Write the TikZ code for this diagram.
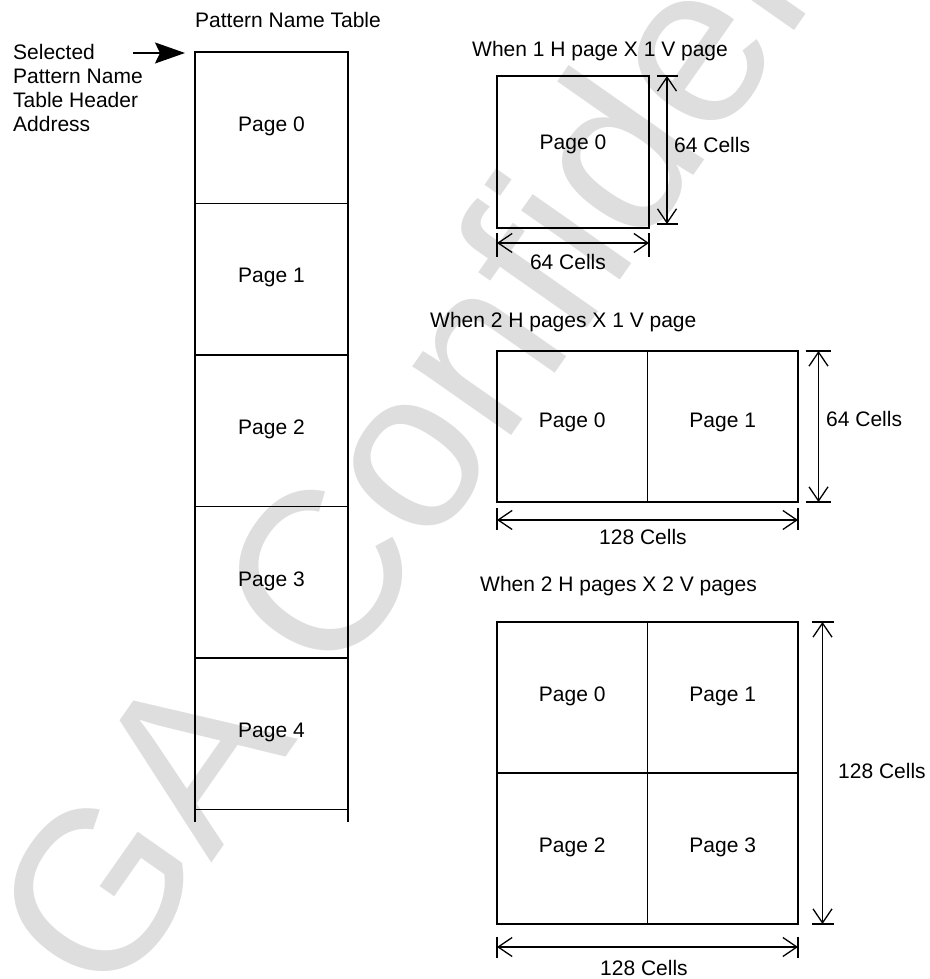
\documentclass[tikz,border=0pt]{standalone}
\usepackage{fontspec}
\setmainfont{Liberation Sans}
\usetikzlibrary{arrows.meta,calc}
\definecolor{wm}{RGB}{222,222,222}
\begin{document}
\begin{tikzpicture}[x=1pt,y=1pt,
  txt/.style={font=\fontsize{21}{24}\selectfont, inner sep=0pt},
  wmtext/.style={font=\fontsize{228}{228}\selectfont, text=wm, inner sep=0pt},
  colcell/.style={draw, line width=1.6pt, minimum width=153pt, minimum height=151.5pt,
    inner sep=0pt, outer sep=0pt, text depth=7pt, font=\fontsize{21}{24}\selectfont},
  gcell/.style={draw, line width=1.1pt, minimum width=150.5pt, minimum height=151pt,
    inner sep=0pt, outer sep=0pt, text depth=7pt, font=\fontsize{21}{24}\selectfont},
  outer/.style={draw, line width=1.8pt},
  colline/.style={line width=1.6pt},
  dim/.style={line width=1.3pt, {Straight Barb[length=14pt,width=19pt]}-{Straight Barb[length=14pt,width=19pt]}},
  tick/.style={line width=1.2pt},
  ptr/.style={line width=1.6pt, -{Stealth[length=30pt,width=21pt,inset=5pt]}},
]
\useasboundingbox (0,0) rectangle (929,979);
% watermark
\begin{scope}
  \clip (0,0) rectangle (929,979);
  \node[wmtext, rotate=55, anchor=base west] (wmark) at (110,-30) {GA Confidential};
\end{scope}

% ---- left column: pattern name table ----
\node[txt, anchor=base west] (ttl) at (195,951) {Pattern Name Table};
\node[colcell] (p0) at (271.5,851.25) {Page 0};
\node[colcell] (p1) at (271.5,699.75) {Page 1};
\node[colcell] (p2) at (271.5,548.25) {Page 2};
\node[colcell] (p3) at (271.5,396.75) {Page 3};
\node[colcell] (p4) at (271.5,245.25) {Page 4};
\draw[colline] (p4.south west) -- ++(0,-12.5);
\draw[colline] (p4.south east) -- ++(0,-12.5);

\node[txt, anchor=base west] (sel1) at (13,919) {Selected};
\node[txt, anchor=base west] (sel2) at (13,895) {Pattern Name};
\node[txt, anchor=base west] (sel3) at (13,871) {Table Header};
\node[txt, anchor=base west] (sel4) at (13,847) {Address};
\coordinate (ptrstart) at (133,926);
\draw[ptr] (ptrstart) -- ($(p0.north west)+(-10,-1)$);

% ---- 1 H x 1 V ----
\node[txt, anchor=base west] (t1) at (472,922) {When 1 H page X 1 V page};
\node[gcell, line width=1.8pt, minimum width=152pt, minimum height=152pt, text depth=19pt] (a0) at (573,827) {Page 0};
\coordinate (a0t) at ($(a0.north east)+(18,0)$);
\coordinate (a0b) at ($(a0.south east)+(18,4)$);
\draw[tick] ($(a0t)+(-10,0)$) -- ++(21,0);
\draw[tick] ($(a0b)+(-10,0)$) -- ++(21,0);
\draw[dim] (a0t) -- (a0b);
\node[txt, anchor=base west] (a0v) at (674,826) {64 Cells};
\coordinate (a0l) at ($(a0.south west)+(0,-15)$);
\coordinate (a0r) at ($(a0.south east)+(0,-15)$);
\draw[tick] ($(a0.south west)+(0,-5)$) -- ++(0,-24);
\draw[tick] ($(a0.south east)+(0,-5)$) -- ++(0,-24);
\draw[dim] (a0l) -- (a0r);
\node[txt, anchor=base] (a0h) at (568,709) {64 Cells};

% ---- 2 H x 1 V ----
\node[txt, anchor=base west] (t2) at (430,651) {When 2 H pages X 1 V page};
\node[gcell, text depth=12pt] (b0) at (572.25,552.5) {Page 0};
\node[gcell, text depth=12pt] (b1) at (722.75,552.5) {Page 1};
\draw[outer] (b0.north west) rectangle (b1.south east);
\coordinate (b1t) at ($(b1.north east)+(20.5,0)$);
\coordinate (b1b) at ($(b1.south east)+(20.5,0)$);
\draw[tick] ($(b1t)+(-13,0)$) -- ++(25,0);
\draw[tick] ($(b1b)+(-13,0)$) -- ++(25,0);
\draw[dim] (b1t) -- (b1b);
\node[txt, anchor=base west] (b1v) at (826,552) {64 Cells};
\coordinate (b0l) at ($(b0.south west)+(0,-18)$);
\coordinate (b1r) at ($(b1.south east)+(0,-18)$);
\draw[tick] ($(b0.south west)+(0,-6)$) -- ++(0,-22);
\draw[tick] ($(b1.south east)+(0,-6)$) -- ++(0,-22);
\draw[dim] (b0l) -- (b1r);
\node[txt, anchor=base] (b0h) at (643,434) {128 Cells};

% ---- 2 H x 2 V ----
\node[txt, anchor=base west] (t3) at (480,387) {When 2 H pages X 2 V pages};
\node[gcell] (c0) at (572.25,281.5) {Page 0};
\node[gcell] (c1) at (722.75,281.5) {Page 1};
\node[gcell] (c2) at (572.25,130.5) {Page 2};
\node[gcell] (c3) at (722.75,130.5) {Page 3};
\draw[outer] (c0.north west) rectangle (c3.south east);
\draw[line width=1.1pt] (c2.north east) -- ++(4,0);
\coordinate (c1t) at ($(c1.north east)+(24.5,0)$);
\coordinate (c3b) at ($(c3.south east)+(24.5,0)$);
\draw[tick] ($(c1t)+(-11,0)$) -- ++(22,0);
\draw[tick] ($(c3b)+(-11,0)$) -- ++(22,0);
\draw[dim] (c1t) -- (c3b);
\node[txt, anchor=base west] (c3v) at (838,200) {128 Cells};
\coordinate (c2l) at ($(c2.south west)+(0,-23)$);
\coordinate (c3r) at ($(c3.south east)+(0,-23)$);
\draw[tick] ($(c2.south west)+(0,-13)$) -- ++(0,-21);
\draw[tick] ($(c3.south east)+(0,-13)$) -- ++(0,-21);
\draw[dim] (c2l) -- (c3r);
\node[txt, anchor=base] (c2h) at (644,4) {128 Cells};
\end{tikzpicture}
\end{document}
